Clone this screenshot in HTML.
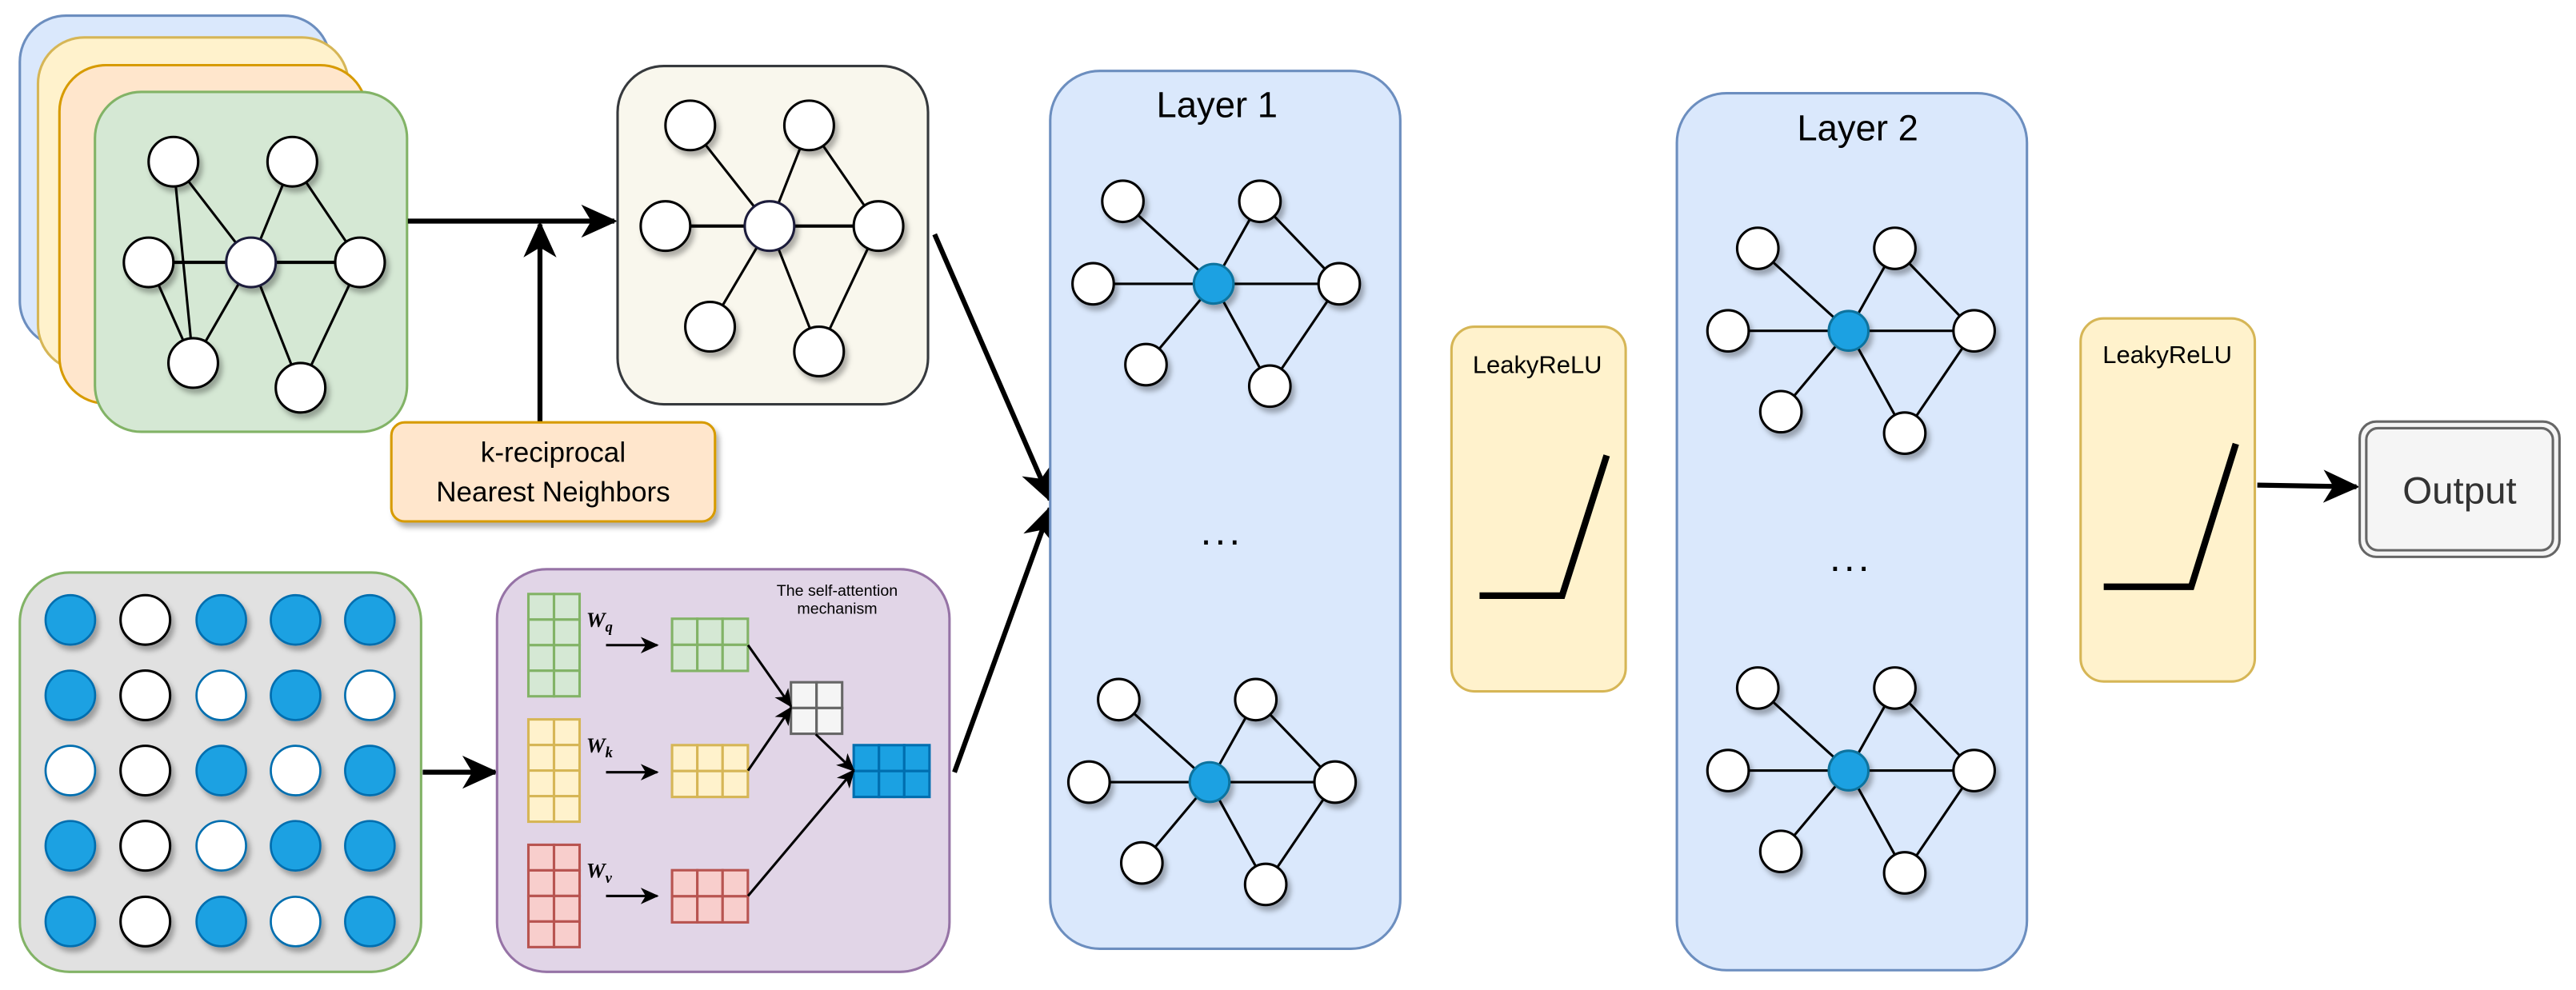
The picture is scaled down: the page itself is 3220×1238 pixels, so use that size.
<!DOCTYPE html>
<html><head><meta charset="utf-8"><style>html,body{margin:0;padding:0;background:#fff}svg{display:block}</style></head>
<body>
<svg xmlns="http://www.w3.org/2000/svg" width="3220" height="1238" viewBox="0 0 1560 600" preserveAspectRatio="none" font-family="Liberation Sans, sans-serif">
<defs>
<marker id="ah" markerUnits="userSpaceOnUse" markerWidth="24" markerHeight="24" refX="20" refY="10" orient="auto" viewBox="0 0 24 20">
<path d="M0,0 L22,10 L0,20 L6,10 Z" fill="#000"/></marker>
<marker id="as" markerUnits="userSpaceOnUse" markerWidth="12" markerHeight="12" refX="10" refY="5" orient="auto" viewBox="0 0 12 10">
<path d="M0,0 L11,5 L0,10 L3,5 Z" fill="#000"/></marker>
<filter id="sh" x="-50%" y="-50%" width="200%" height="200%"><feDropShadow dx="2" dy="3" stdDeviation="1.5" flood-color="#000" flood-opacity="0.3"/></filter>
</defs>

<rect x="12" y="9.5" width="188" height="201" rx="28" fill="#dae8fc" stroke="#6c8ebf" stroke-width="1.5"/>
<rect x="23" y="22.7" width="188" height="202" rx="28" fill="#fff2cc" stroke="#d6b656" stroke-width="1.5"/>
<rect x="36" y="39.5" width="186" height="205" rx="28" fill="#ffe6cc" stroke="#d79b00" stroke-width="1.5"/>
<rect x="57.5" y="55.7" width="189" height="206" rx="28" fill="#d5e8d4" stroke="#82b366" stroke-width="1.5"/>
<g stroke="#000" stroke-width="1.5">
<line x1="105" y1="98" x2="117" y2="220"/><line x1="105" y1="98" x2="152" y2="159"/>
<line x1="177" y1="98" x2="152" y2="159"/><line x1="177" y1="98" x2="218" y2="159"/>
<line x1="90" y1="159" x2="218" y2="159" stroke-width="2"/><line x1="90" y1="159" x2="117" y2="220"/>
<line x1="117" y1="220" x2="152" y2="159"/><line x1="152" y1="159" x2="182" y2="235"/>
<line x1="218" y1="159" x2="182" y2="235"/>
</g>
<g fill="#fff" stroke="#000" stroke-width="1.5" filter="url(#sh)">
<circle cx="105" cy="98" r="15"/><circle cx="177" cy="98" r="15"/><circle cx="90" cy="159" r="15"/>
<circle cx="152" cy="159" r="15" stroke="#1a1a3a"/><circle cx="218" cy="159" r="15"/><circle cx="117" cy="220" r="15"/><circle cx="182" cy="235" r="15"/>
</g>

<line x1="247" y1="134" x2="372" y2="134" stroke="#000" stroke-width="3" marker-end="url(#ah)"/>
<line x1="327" y1="256" x2="327" y2="136" stroke="#000" stroke-width="3" marker-end="url(#ah)"/>

<rect x="237" y="256" width="196" height="60" rx="8" fill="#ffe6cc" stroke="#d79b00" stroke-width="1.5" filter="url(#sh)"/>
<text x="335" y="280" font-size="17" text-anchor="middle">k-reciprocal</text>
<text x="335" y="304" font-size="17" text-anchor="middle">Nearest Neighbors</text>

<rect x="374" y="40" width="188" height="205" rx="28" fill="#f9f7ed" stroke="#36393d" stroke-width="1.5"/>
<g stroke="#000" stroke-width="1.5">
<line x1="418" y1="76" x2="466" y2="137"/><line x1="490" y1="76" x2="466" y2="137"/><line x1="490" y1="76" x2="532" y2="137"/>
<line x1="403" y1="137" x2="532" y2="137" stroke-width="2"/><line x1="466" y1="137" x2="430" y2="198"/>
<line x1="466" y1="137" x2="496" y2="213"/><line x1="532" y1="137" x2="496" y2="213"/>
</g>
<g fill="#fff" stroke="#000" stroke-width="1.5" filter="url(#sh)">
<circle cx="418" cy="76" r="15"/><circle cx="490" cy="76" r="15"/><circle cx="403" cy="137" r="15"/>
<circle cx="466" cy="137" r="15" stroke="#1a1a3a"/><circle cx="532" cy="137" r="15"/><circle cx="430" cy="198" r="15"/><circle cx="496" cy="213" r="15"/>
</g>

<rect x="12" y="347" width="243" height="242" rx="30" fill="#e1e1e1" stroke="#82b366" stroke-width="1.5"/>
<g stroke-width="1.3" filter="url(#sh)">
<g fill="#1ba1e2" stroke="#006eaf">
<circle cx="42.6" cy="375.7" r="15"/><circle cx="134" cy="375.7" r="15"/><circle cx="179" cy="375.7" r="15"/><circle cx="224" cy="375.7" r="15"/>
<circle cx="42.6" cy="421.4" r="15"/><circle cx="179" cy="421.4" r="15"/>
<circle cx="134" cy="467" r="15"/><circle cx="224" cy="467" r="15"/>
<circle cx="42.6" cy="512.6" r="15"/><circle cx="179" cy="512.6" r="15"/><circle cx="224" cy="512.6" r="15"/>
<circle cx="42.6" cy="558.5" r="15"/><circle cx="134" cy="558.5" r="15"/><circle cx="224" cy="558.5" r="15"/>
</g>
<g fill="#fff" stroke="#006eaf">
<circle cx="134" cy="421.4" r="15"/><circle cx="224" cy="421.4" r="15"/>
<circle cx="42.6" cy="467" r="15"/><circle cx="179" cy="467" r="15"/>
<circle cx="134" cy="512.6" r="15"/><circle cx="179" cy="558.5" r="15"/>
</g>
<g fill="#fff" stroke="#000" stroke-width="1.5">
<circle cx="88" cy="375.7" r="15"/><circle cx="88" cy="421.4" r="15"/><circle cx="88" cy="467" r="15"/><circle cx="88" cy="512.6" r="15"/><circle cx="88" cy="558.5" r="15"/>
</g>
</g>
<line x1="256" y1="468" x2="300" y2="468" stroke="#000" stroke-width="3" marker-end="url(#ah)"/>

<rect x="301" y="345" width="274" height="244" rx="30" fill="#e1d5e7" stroke="#9673a6" stroke-width="1.5"/>
<text x="507" y="361" font-size="9.5" text-anchor="middle">The self-attention</text>
<text x="507" y="372" font-size="9.5" text-anchor="middle">mechanism</text>
<g stroke-width="1.5">
<g fill="#d5e8d4" stroke="#82b366">
<rect x="320" y="360" width="15.5" height="15.5"/><rect x="335.5" y="360" width="15.5" height="15.5"/>
<rect x="320" y="375.5" width="15.5" height="15.5"/><rect x="335.5" y="375.5" width="15.5" height="15.5"/>
<rect x="320" y="391" width="15.5" height="15.5"/><rect x="335.5" y="391" width="15.5" height="15.5"/>
<rect x="320" y="406.5" width="15.5" height="15.5"/><rect x="335.5" y="406.5" width="15.5" height="15.5"/>
<rect x="407" y="375" width="15.3" height="15.8"/><rect x="422.3" y="375" width="15.3" height="15.8"/><rect x="437.6" y="375" width="15.3" height="15.8"/>
<rect x="407" y="390.8" width="15.3" height="15.8"/><rect x="422.3" y="390.8" width="15.3" height="15.8"/><rect x="437.6" y="390.8" width="15.3" height="15.8"/>
</g>
<g fill="#fff2cc" stroke="#d6b656">
<rect x="320" y="436" width="15.5" height="15.5"/><rect x="335.5" y="436" width="15.5" height="15.5"/>
<rect x="320" y="451.5" width="15.5" height="15.5"/><rect x="335.5" y="451.5" width="15.5" height="15.5"/>
<rect x="320" y="467" width="15.5" height="15.5"/><rect x="335.5" y="467" width="15.5" height="15.5"/>
<rect x="320" y="482.5" width="15.5" height="15.5"/><rect x="335.5" y="482.5" width="15.5" height="15.5"/>
<rect x="407" y="451.6" width="15.3" height="15.7"/><rect x="422.3" y="451.6" width="15.3" height="15.7"/><rect x="437.6" y="451.6" width="15.3" height="15.7"/>
<rect x="407" y="467.3" width="15.3" height="15.7"/><rect x="422.3" y="467.3" width="15.3" height="15.7"/><rect x="437.6" y="467.3" width="15.3" height="15.7"/>
</g>
<g fill="#f8cecc" stroke="#b85450">
<rect x="320" y="512" width="15.5" height="15.5"/><rect x="335.5" y="512" width="15.5" height="15.5"/>
<rect x="320" y="527.5" width="15.5" height="15.5"/><rect x="335.5" y="527.5" width="15.5" height="15.5"/>
<rect x="320" y="543" width="15.5" height="15.5"/><rect x="335.5" y="543" width="15.5" height="15.5"/>
<rect x="320" y="558.5" width="15.5" height="15.5"/><rect x="335.5" y="558.5" width="15.5" height="15.5"/>
<rect x="407" y="527.4" width="15.3" height="15.8"/><rect x="422.3" y="527.4" width="15.3" height="15.8"/><rect x="437.6" y="527.4" width="15.3" height="15.8"/>
<rect x="407" y="543.2" width="15.3" height="15.8"/><rect x="422.3" y="543.2" width="15.3" height="15.8"/><rect x="437.6" y="543.2" width="15.3" height="15.8"/>
</g>
<g fill="#f5f5f5" stroke="#666666">
<rect x="479" y="413.5" width="15.5" height="15.6"/><rect x="494.5" y="413.5" width="15.5" height="15.6"/>
<rect x="479" y="429.1" width="15.5" height="15.6"/><rect x="494.5" y="429.1" width="15.5" height="15.6"/>
</g>
<g fill="#1ba1e2" stroke="#006eaf">
<rect x="517" y="451.6" width="15.3" height="15.7"/><rect x="532.3" y="451.6" width="15.3" height="15.7"/><rect x="547.6" y="451.6" width="15.3" height="15.7"/>
<rect x="517" y="467.3" width="15.3" height="15.7"/><rect x="532.3" y="467.3" width="15.3" height="15.7"/><rect x="547.6" y="467.3" width="15.3" height="15.7"/>
</g>
</g>
<g font-family="Liberation Serif, serif" font-style="italic" font-weight="bold" font-size="13">
<text x="355" y="380">W<tspan font-size="9" dy="3">q</tspan></text>
<text x="355" y="456">W<tspan font-size="9" dy="3">k</tspan></text>
<text x="355" y="532">W<tspan font-size="9" dy="3">v</tspan></text>
</g>
<g stroke="#000" stroke-width="1.5" marker-end="url(#as)">
<line x1="367" y1="391" x2="398" y2="391"/><line x1="367" y1="468" x2="398" y2="468"/><line x1="367" y1="543" x2="398" y2="543"/>
<line x1="453" y1="391" x2="479" y2="428"/><line x1="453" y1="467" x2="479" y2="429"/>
<line x1="494" y1="445" x2="517" y2="467"/><line x1="453" y1="543" x2="517" y2="467"/>
</g>

<line x1="566" y1="142" x2="636" y2="303" stroke="#000" stroke-width="3" marker-end="url(#ah)"/>
<line x1="578" y1="468" x2="636" y2="308" stroke="#000" stroke-width="3" marker-end="url(#ah)"/>

<rect x="636" y="43" width="212" height="532" rx="30" fill="#dae8fc" stroke="#6c8ebf" stroke-width="1.5"/>
<text x="737" y="71" font-size="22" text-anchor="middle">Layer 1</text>
<text x="740" y="330" font-size="24" text-anchor="middle" letter-spacing="2">...</text>

<rect x="1015.5" y="56.5" width="212" height="531.5" rx="30" fill="#dae8fc" stroke="#6c8ebf" stroke-width="1.5"/>
<text x="1125" y="85" font-size="22" text-anchor="middle">Layer 2</text>
<text x="1121" y="346" font-size="24" text-anchor="middle" letter-spacing="2">...</text>

<g id="g1">
<g stroke="#000" stroke-width="1.5">
<line x1="680" y1="122" x2="735" y2="172"/><line x1="763" y1="122" x2="735" y2="172"/><line x1="763" y1="122" x2="811" y2="172"/>
<line x1="662" y1="172" x2="811" y2="172"/><line x1="735" y1="172" x2="694" y2="221"/><line x1="735" y1="172" x2="769" y2="234"/>
<line x1="811" y1="172" x2="769" y2="234"/>
</g>
<g fill="#fff" stroke="#000" stroke-width="1.5" filter="url(#sh)">
<circle cx="680" cy="122" r="12.5"/><circle cx="763" cy="122" r="12.5"/><circle cx="662" cy="172" r="12.5"/>
<circle cx="811" cy="172" r="12.5"/><circle cx="694" cy="221" r="12.5"/><circle cx="769" cy="234" r="12.5"/>
<circle cx="735" cy="172" r="12" fill="#1ba1e2" stroke="#10739e"/>
</g>
</g>
<use href="#g1" transform="translate(-2.5,302)"/>
<use href="#g1" transform="translate(384.5,28.5)"/>
<use href="#g1" transform="translate(384.5,295)"/>

<rect x="879" y="198" width="105.5" height="221" rx="14" fill="#fff2cc" stroke="#d6b656" stroke-width="1.5"/>
<text x="931" y="226" font-size="15" text-anchor="middle">LeakyReLU</text>
<polyline points="896,361 946,361 973,276" fill="none" stroke="#000" stroke-width="4"/>

<rect x="1260" y="193" width="105.5" height="220" rx="14" fill="#fff2cc" stroke="#d6b656" stroke-width="1.5"/>
<text x="1312.5" y="220" font-size="15" text-anchor="middle">LeakyReLU</text>
<polyline points="1274,355.6 1327,355.6 1354,269" fill="none" stroke="#000" stroke-width="4"/>

<line x1="1367" y1="294" x2="1427" y2="295" stroke="#000" stroke-width="3" marker-end="url(#ah)"/>
<rect x="1429" y="255.5" width="121" height="82" rx="10" fill="#f5f5f5" stroke="#666" stroke-width="1.5"/>
<rect x="1433" y="259.5" width="113" height="74" rx="7" fill="none" stroke="#666" stroke-width="1.5"/>
<text x="1489.5" y="305" font-size="23" text-anchor="middle" fill="#333">Output</text>
</svg>
</body></html>
